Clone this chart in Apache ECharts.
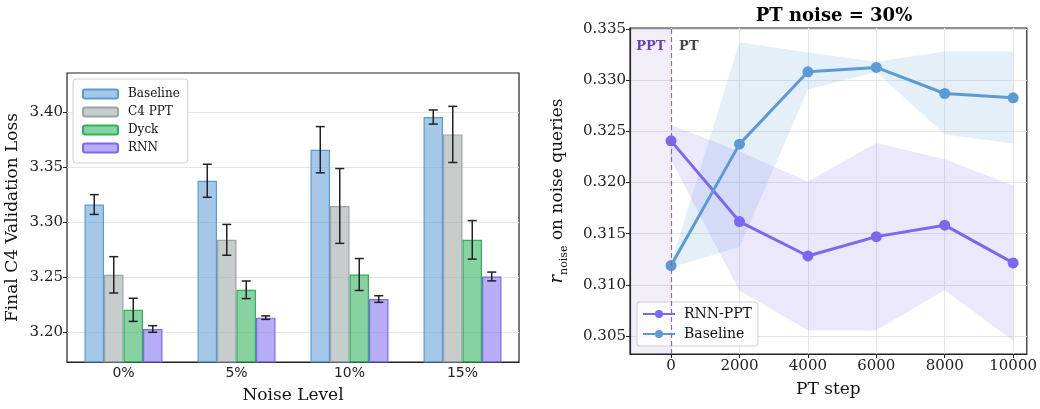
<!DOCTYPE html>
<html>
<head>
<meta charset="utf-8">
<script src="https://cdn.jsdelivr.net/npm/echarts@6/dist/echarts.min.js"></script>
<style>
  html, body { margin: 0; padding: 0; background: #fff; }
  #chart { width: 1040px; height: 409px; }
</style>
</head>
<body>
<div id="chart"></div>
<script>
// left panel: final loss per noise level
const noiseLevels = ['0%', '5%', '10%', '15%']
const lossTicks = [3.20, 3.25, 3.30, 3.35, 3.40]
const baselineLoss = [3.3158, 3.3374, 3.3656, 3.3953]
const baselineErr = [0.009, 0.015, 0.021, 0.0064]
const c4pptLoss = [3.2519, 3.2837, 3.3145, 3.3795]
const c4pptErr = [0.0165, 0.014, 0.034, 0.0255]
const dyckLoss = [3.2201, 3.2383, 3.2522, 3.2837]
const dyckErr = [0.0105, 0.008, 0.0145, 0.0175]
const rnnLoss = [3.2027, 3.2130, 3.2299, 3.2504]
const rnnErr = [0.003, 0.0016, 0.003, 0.004]

// right panel: r_noise over PT steps
const ptSteps = [0, 2000, 4000, 6000, 8000, 10000]
const stepTicks = [0, 2000, 4000, 6000, 8000, 10000]
const rTicks = [0.305, 0.310, 0.315, 0.320, 0.325, 0.330, 0.335]
const rnnPpt = [0.32407, 0.31618, 0.31282, 0.31471, 0.31583, 0.31214]
const rnnPptLo = [0.3222, 0.30943, 0.30555, 0.30555, 0.3095, 0.30454]
const rnnPptHi = [0.32563, 0.32302, 0.32009, 0.32385, 0.32228, 0.3197]
const baseline = [0.31188, 0.32375, 0.33082, 0.33125, 0.3287, 0.32828]
const baselineLo = [0.3117, 0.3137, 0.3291, 0.3308, 0.3247, 0.3238]
const baselineHi = [0.3121, 0.3337, 0.3327, 0.3318, 0.3328, 0.3328]

const serif = 'DejaVu Serif'
const catGap = 0.31

const barDefs = [
  { name: 'Baseline', vals: baselineLoss, err: baselineErr, fill: 'rgba(91,155,213,0.55)', edge: '#5b9bd5' },
  { name: 'C4 PPT', vals: c4pptLoss, err: c4pptErr, fill: 'rgba(160,172,170,0.6)', edge: '#9aa6a4' },
  { name: 'Dyck', vals: dyckLoss, err: dyckErr, fill: 'rgba(46,176,92,0.57)', edge: '#2eb05c' },
  { name: 'RNN', vals: rnnLoss, err: rnnErr, fill: 'rgba(123,104,238,0.55)', edge: '#7b68ee' }
]

function errRender(k) {
  return function (params, api) {
    let cat = api.value(0)
    let v = api.value(1)
    let e = api.value(2)
    let bandW = api.size([1, 0])[0]
    let bw = bandW * (1 - catGap) / 4
    let x = api.coord([cat, v])[0] + (k - 1.5) * bw
    let top = api.coord([cat, v + e])[1]
    let bot = api.coord([cat, v - e])[1]
    let cap = 4.5
    let st = { stroke: '#222', lineWidth: 1.5 }
    return {
      type: 'group',
      children: [
        { type: 'line', shape: { x1: x, y1: top, x2: x, y2: bot }, style: st },
        { type: 'line', shape: { x1: x - cap, y1: top, x2: x + cap, y2: top }, style: st },
        { type: 'line', shape: { x1: x - cap, y1: bot, x2: x + cap, y2: bot }, style: st }
      ]
    }
  }
}

function bandRender(lo, hi, fill) {
  return function (params, api) {
    if (params.dataIndex !== 0) return null
    let pts = []
    for (let i = 0; i < ptSteps.length; i++) pts.push(api.coord([ptSteps[i], hi[i]]))
    for (let i = ptSteps.length - 1; i >= 0; i--) pts.push(api.coord([ptSteps[i], lo[i]]))
    return { type: 'polygon', shape: { points: pts }, style: { fill: fill } }
  }
}

let series = []
barDefs.forEach((d, k) => {
  series.push({
    name: d.name,
    type: 'bar',
    xAxisIndex: 0,
    yAxisIndex: 0,
    barGap: '0%',
    barCategoryGap: (catGap * 100) + '%',
    data: d.vals,
    itemStyle: { color: d.fill, borderColor: d.edge, borderWidth: 1.2 },
    z: 2
  })
})
barDefs.forEach((d, k) => {
  series.push({
    type: 'custom',
    xAxisIndex: 0,
    yAxisIndex: 0,
    renderItem: errRender(k),
    encode: { x: 0, y: 1 },
    data: d.vals.map((v, i) => [i, v, d.err[i]]),
    silent: true,
    z: 5
  })
})

// right panel
series.push({
  type: 'custom',
  xAxisIndex: 1,
  yAxisIndex: 1,
  renderItem: bandRender(baselineLo, baselineHi, 'rgba(91,155,213,0.16)'),
  encode: { x: 0, y: [1, 2] },
  data: ptSteps.map((s, i) => [s, baselineLo[i], baselineHi[i]]),
  silent: true,
  z: 2,
  markArea: {
    silent: true,
    itemStyle: { color: 'rgba(120,90,180,0.1)' },
    data: [[{ xAxis: -1200 }, { xAxis: 0 }]]
  },
  markLine: {
    silent: true,
    symbol: 'none',
    label: { show: false },
    lineStyle: { color: '#8a64c0', type: [5, 3], width: 1.2 },
    data: [{ xAxis: 0 }]
  }
})
series.push({
  type: 'custom',
  xAxisIndex: 1,
  yAxisIndex: 1,
  renderItem: bandRender(rnnPptLo, rnnPptHi, 'rgba(123,104,238,0.15)'),
  encode: { x: 0, y: [1, 2] },
  data: ptSteps.map((s, i) => [s, rnnPptLo[i], rnnPptHi[i]]),
  silent: true,
  z: 2,
  markPoint: {
    silent: true,
    symbolSize: 0,
    data: [
      { coord: [-590, 0.33327], label: { show: true, formatter: 'PPT', color: '#6a3fb0', fontFamily: serif, fontWeight: 'bold', fontSize: 13 } },
      { coord: [520, 0.33327], label: { show: true, formatter: 'PT', color: '#444', fontFamily: serif, fontWeight: 'bold', fontSize: 13 } }
    ]
  }
})
series.push({
  name: 'RNN-PPT',
  type: 'line',
  xAxisIndex: 1,
  yAxisIndex: 1,
  data: ptSteps.map((s, i) => [s, rnnPpt[i]]),
  symbol: 'circle',
  symbolSize: 11,
  lineStyle: { color: '#7b68ee', width: 3 },
  itemStyle: { color: '#7b68ee' },
  z: 4
})
series.push({
  name: 'Baseline (PT)',
  type: 'line',
  xAxisIndex: 1,
  yAxisIndex: 1,
  data: ptSteps.map((s, i) => [s, baseline[i]]),
  symbol: 'circle',
  symbolSize: 11,
  lineStyle: { color: '#5b9bd5', width: 3 },
  itemStyle: { color: '#5b9bd5' },
  z: 4
})

const option = {
  animation: false,
  backgroundColor: '#fff',
  title: {
    text: 'PT noise = 30%',
    left: 829,
    top: 2,
    textAlign: 'center',
    textStyle: { fontFamily: serif, fontWeight: 'bold', fontSize: 18, color: '#000' }
  },
  legend: [
    {
      data: barDefs.map(d => d.name),
      orient: 'vertical',
      left: 73,
      top: 79,
      itemWidth: 35,
      itemHeight: 9,
      itemGap: 6,
      padding: [9, 8, 9, 9],
      borderColor: '#d0d0d0',
      borderWidth: 1,
      borderRadius: 3,
      backgroundColor: '#fff',
      textStyle: { fontFamily: serif, fontSize: 12, color: '#111', padding: [0, 0, 0, 5] }
    },
    {
      data: ['RNN-PPT', 'Baseline (PT)'],
      formatter: n => n.replace(' (PT)', ''),
      orient: 'vertical',
      left: 637,
      top: 302,
      itemWidth: 32,
      itemHeight: 10,
      itemGap: 6,
      padding: [5, 6, 5, 5],
      borderColor: '#d0d0d0',
      borderWidth: 1,
      borderRadius: 3,
      backgroundColor: 'rgba(255,255,255,0.85)',
      textStyle: { fontFamily: serif, fontSize: 14, color: '#111', padding: [0, 0, 0, 4] }
    }
  ],
  grid: [
    { left: 67, top: 73, width: 452, height: 295, show: true, borderColor: '#222', borderWidth: 1.2, backgroundColor: 'transparent' },
    { left: 630, top: 28, width: 398, height: 326, show: true, borderColor: '#222', borderWidth: 1.2, backgroundColor: 'transparent' }
  ],
  xAxis: [
    {
      type: 'category',
      gridIndex: 0,
      data: noiseLevels,
      name: 'Noise Level',
      nameLocation: 'middle',
      nameGap: 25,
      nameTextStyle: { fontFamily: serif, fontSize: 17, color: '#111' },
      axisLine: { lineStyle: { color: '#222', width: 1.2 } },
      axisTick: { show: false },
      axisLabel: { fontFamily: 'DejaVu Sans', fontSize: 14, color: '#222', margin: 4 },
      splitLine: { show: false }
    },
    {
      type: 'value',
      gridIndex: 1,
      min: -1200,
      max: 10400,
      name: 'PT step',
      nameLocation: 'middle',
      nameGap: 27,
      nameTextStyle: { fontFamily: serif, fontSize: 17, color: '#111' },
      axisLine: { onZero: false, lineStyle: { color: '#222', width: 1.2 } },
      axisTick: { show: true, customValues: stepTicks, length: 4, lineStyle: { color: '#222' } },
      axisLabel: { customValues: stepTicks, formatter: v => String(v), fontFamily: serif, fontSize: 15, color: '#222', margin: 5 },
      splitLine: { show: true, lineStyle: { color: '#e6e6e6' } }
    }
  ],
  yAxis: [
    {
      type: 'value',
      gridIndex: 0,
      min: 3.1727,
      max: 3.4353,
      name: 'Final C4 Validation Loss',
      nameLocation: 'middle',
      nameGap: 46,
      nameTextStyle: { fontFamily: serif, fontSize: 17, color: '#111' },
      axisLine: { lineStyle: { color: '#222', width: 1.2 } },
      axisTick: { show: true, customValues: lossTicks, length: 4, lineStyle: { color: '#222' } },
      axisLabel: { customValues: lossTicks, formatter: v => v.toFixed(2), fontFamily: serif, fontSize: 15, color: '#222', margin: 4 },
      splitLine: { show: true, lineStyle: { color: '#e6e6e6' } }
    },
    {
      type: 'value',
      gridIndex: 1,
      min: 0.30324,
      max: 0.3351,
      name: '{r|r}{s|noise}{t| on noise queries}',
      nameLocation: 'middle',
      nameGap: 64,
      nameTextStyle: {
        fontFamily: serif,
        fontSize: 17,
        color: '#111',
        rich: {
          r: { fontFamily: serif, fontStyle: 'italic', fontSize: 18, color: '#111', verticalAlign: 'bottom', lineHeight: 20 },
          s: { fontFamily: serif, fontSize: 11, color: '#111', verticalAlign: 'bottom', lineHeight: 16, padding: [0, 0, -4, 0] },
          t: { fontFamily: serif, fontSize: 17, color: '#111', verticalAlign: 'bottom', lineHeight: 20 }
        }
      },
      axisLine: { onZero: false, lineStyle: { color: '#222', width: 1.2 } },
      axisTick: { show: true, customValues: rTicks, length: 4, lineStyle: { color: '#222' } },
      axisLabel: { customValues: rTicks, formatter: v => v.toFixed(3), fontFamily: serif, fontSize: 15, color: '#222', margin: 4 },
      splitLine: { show: true, lineStyle: { color: '#e6e6e6' } }
    }
  ],
  series: series
}

let chart = echarts.init(document.getElementById('chart'))
chart.setOption(option)
</script>
</body>
</html>
